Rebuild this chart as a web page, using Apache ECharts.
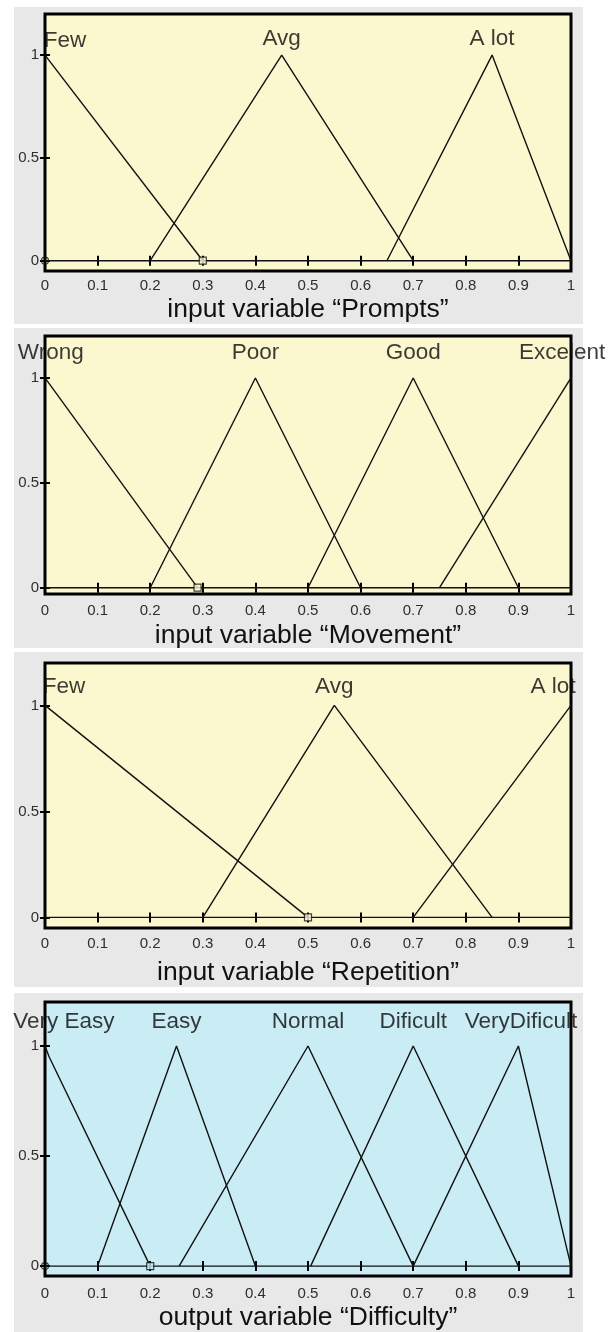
<!DOCTYPE html>
<html><head><meta charset="utf-8">
<script src="https://cdn.jsdelivr.net/npm/echarts@6/dist/echarts.min.js"></script>
<style>html,body{margin:0;padding:0;background:#fff}#c{width:616px;height:1332px}</style>
</head><body><div id="c"></div>
<script>
// ---------- data ----------
const yTickValues = [0, 0.5, 1];
const axisTitles = ['input variable \u201cPrompts\u201d', 'input variable \u201cMovement\u201d', 'input variable \u201cRepetition\u201d', 'output variable \u201cDifficulty\u201d'];
const baseline = [[0, 0], [1, 0]];

// Panel 1: Prompts
const promptsNames = ['Few', 'Avg', 'A lot'];
const promptsFew = [[0, 1], [0.3, 0]];
const promptsAvg = [[0.2, 0], [0.45, 1], [0.7, 0]];
const promptsALot = [[0.65, 0], [0.85, 1], [1, 0]];
const promptsLabelX = [0.038, 0.45, 0.85];
const promptsLabelY = [1.07, 1.08, 1.08];
const promptsSquares = [[0.3, 0]];
const promptsCircles = [[0, 0]];

// Panel 2: Movement
const movementNames = ['Wrong', 'Poor', 'Good', 'Excelent'];
const movementWrong = [[0, 1], [0.29, 0]];
const movementPoor = [[0.2, 0], [0.4, 1], [0.6, 0]];
const movementGood = [[0.5, 0], [0.7, 1], [0.9, 0]];
const movementExcelent = [[0.75, 0], [1, 1]];
const movementLabelX = [0.011, 0.4, 0.7, 0.983];
const movementLabelY = [1.12, 1.12, 1.12, 1.12];
const movementSquares = [[0.29, 0]];
const movementCircles = [];

// Panel 3: Repetition
const repetitionNames = ['Few', 'Avg', 'A lot'];
const repetitionFew = [[0, 1], [0.5, 0]];
const repetitionAvg = [[0.3, 0], [0.55, 1], [0.85, 0]];
const repetitionALot = [[0.7, 0], [1, 1]];
const repetitionLabelX = [0.036, 0.55, 0.966];
const repetitionLabelY = [1.09, 1.09, 1.09];
const repetitionSquares = [[0.5, 0]];
const repetitionCircles = [];

// Panel 4: Difficulty
const difficultyNames = ['Very Easy', 'Easy', 'Normal', 'Dificult', 'VeryDificult'];
const difficultyVeryEasy = [[0, 1], [0.008, 0.95], [0.2, 0]];
const difficultyEasy = [[0.1, 0], [0.25, 1], [0.4, 0]];
const difficultyNormal = [[0.255, 0], [0.5, 1], [0.7, 0]];
const difficultyDificult = [[0.505, 0], [0.7, 1], [0.9, 0]];
const difficultyVeryDificult = [[0.7, 0], [0.9, 1], [1, 0]];
const difficultyLabelX = [0.036, 0.25, 0.5, 0.7, 0.905];
const difficultyLabelY = [1.11, 1.11, 1.11, 1.11, 1.11];
const difficultySquares = [[0.2, 0]];
const difficultyCircles = [[0, 0]];

// ---------- layout ----------
const FONT = "'Liberation Sans', Arial, sans-serif";
const panels = [
  {bg: '#fbf8d0', box: [14, 7, 569, 317], top: 14, height: 257, yMin: -0.05, title: axisTitles[0],
   mfs: [promptsFew, promptsAvg, promptsALot], names: promptsNames, lx: promptsLabelX, ly: promptsLabelY,
   squares: promptsSquares, circles: promptsCircles, nameGap: 25, labelMargin: 7},
  {bg: '#fbf8d0', box: [14, 328, 569, 320], top: 336, height: 258, yMin: -0.03, title: axisTitles[1],
   mfs: [movementWrong, movementPoor, movementGood, movementExcelent], names: movementNames, lx: movementLabelX, ly: movementLabelY,
   squares: movementSquares, circles: movementCircles, nameGap: 28, labelMargin: 9},
  {bg: '#fbf8d0', box: [14, 652, 569, 335], top: 663, height: 265, yMin: -0.05, title: axisTitles[2],
   mfs: [repetitionFew, repetitionAvg, repetitionALot], names: repetitionNames, lx: repetitionLabelX, ly: repetitionLabelY,
   squares: repetitionSquares, circles: repetitionCircles, nameGap: 31, labelMargin: 8},
  {bg: '#c9ecf5', box: [14, 993, 569, 339], top: 1002, height: 275, yMin: -0.045, title: axisTitles[3],
   mfs: [difficultyVeryEasy, difficultyEasy, difficultyNormal, difficultyDificult, difficultyVeryDificult], names: difficultyNames, lx: difficultyLabelX, ly: difficultyLabelY,
   squares: difficultySquares, circles: difficultyCircles, nameGap: 28, labelMargin: 10}
];

const grid = [], xAxis = [], yAxis = [], series = [], graphic = [];
const tickStyle = {show: true, inside: true, length: 5, lineStyle: {color: '#000', width: 2}};

panels.forEach((p, i) => {
  graphic.push({type: 'rect', z: -100, shape: {x: p.box[0], y: p.box[1], width: p.box[2], height: p.box[3]},
    style: {fill: '#e8e8e8'}});
  grid.push({left: 45, width: 526, top: p.top, height: p.height, show: true,
    backgroundColor: p.bg, borderColor: '#000', borderWidth: 3});
  const xb = xAxis.length;
  xAxis.push({type: 'value', gridIndex: i, min: 0, max: 1, interval: 0.1, position: 'bottom',
    axisLine: {show: false}, splitLine: {show: false}, axisTick: tickStyle,
    axisLabel: {fontSize: 15, color: '#2e2e2e', fontFamily: FONT, margin: p.labelMargin},
    name: p.title, nameLocation: 'middle', nameGap: p.nameGap,
    nameTextStyle: {fontSize: 26.5, color: '#111', fontFamily: FONT}});
  xAxis.push({type: 'value', gridIndex: i, min: 0, max: 1, interval: 0.1, position: 'top',
    axisLine: {show: false}, splitLine: {show: false}, axisTick: tickStyle, axisLabel: {show: false}});
  const yb = yAxis.length;
  yAxis.push({type: 'value', gridIndex: i, min: p.yMin, max: 1.2, position: 'left',
    axisLine: {show: false}, splitLine: {show: false},
    axisTick: Object.assign({customValues: yTickValues}, tickStyle),
    axisLabel: {customValues: yTickValues, fontSize: 15, color: '#2e2e2e', fontFamily: FONT, margin: 6}});
  yAxis.push({type: 'value', gridIndex: i, min: p.yMin, max: 1.2, position: 'right',
    axisLine: {show: false}, splitLine: {show: false},
    axisTick: Object.assign({customValues: yTickValues}, tickStyle), axisLabel: {show: false}});

  const lineOf = (data) => ({type: 'line', xAxisIndex: xb, yAxisIndex: yb, data: data,
    symbol: 'none', silent: true, animation: false, clip: false,
    lineStyle: {color: '#111', width: 1.4}});
  series.push(lineOf(baseline));
  p.mfs.forEach(mf => series.push(lineOf(mf)));
  series.push({type: 'scatter', xAxisIndex: xb, yAxisIndex: yb, data: p.squares, symbol: 'rect',
    symbolSize: 7, silent: true, animation: false, z: 5,
    itemStyle: {color: p.bg, borderColor: '#111', borderWidth: 1.2}});
  if (p.circles.length) {
    series.push({type: 'scatter', xAxisIndex: xb, yAxisIndex: yb, data: p.circles, symbol: 'circle',
      symbolSize: 7, silent: true, animation: false, z: 1,
      itemStyle: {color: 'rgba(0,0,0,0)', borderColor: '#111', borderWidth: 1.2}});
  }
  series.push({type: 'scatter', xAxisIndex: xb, yAxisIndex: yb, symbolSize: 0, silent: true, animation: false, z: 6,
    data: p.lx.map((x, k) => ({value: [x, p.ly[k]], name: p.names[k]})),
    label: {show: true, formatter: '{b}', position: [0, 0], align: 'center', verticalAlign: 'middle',
      fontSize: 22.5, color: '#0a0a0a', fontFamily: FONT}});
});

const chart = echarts.init(document.getElementById('c'), null, {renderer: 'canvas'});
chart.setOption({animation: false, backgroundColor: '#fff', graphic: graphic, grid: grid, xAxis: xAxis, yAxis: yAxis, series: series});
</script></body></html>
